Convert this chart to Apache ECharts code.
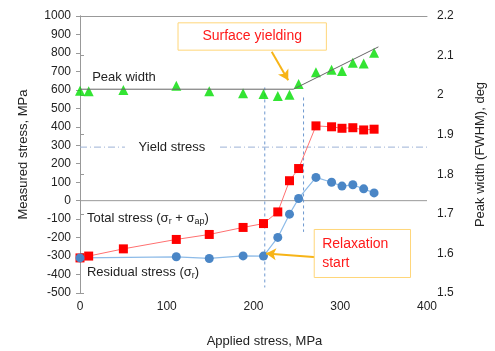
<!DOCTYPE html>
<html>
<head>
<meta charset="utf-8">
<script src="https://cdn.jsdelivr.net/npm/echarts@6/dist/echarts.min.js"></script>
<style>html,body{margin:0;padding:0;background:#fff}#c{width:495px;height:351px}</style>
</head>
<body>
<div id="c"></div>
<script>
// ---- data ----
var totalX   = [0, 10, 50, 111, 149, 188, 211.5, 228, 241.5, 252, 272, 290, 302, 314.5, 327, 339];
var totalY   = [-310, -300, -261, -210, -183, -145, -124, -61, 108, 174, 405, 400, 392, 395, 383, 387];
var residX   = [0, 111, 149, 188, 211.5, 228, 241.5, 252, 272, 290, 302, 314.5, 327, 339];
var residY   = [-310, -304, -313, -299, -300, -199, -73, 12, 126, 100, 79, 86, 64, 42];
var widthX   = [0, 10, 50, 111, 149, 188, 211.5, 228, 241.5, 252, 272, 290, 302, 314.5, 327, 339];
var widthY   = [2.011, 2.010, 2.013, 2.024, 2.010, 2.005, 2.003, 1.998, 2.001, 2.028, 2.058, 2.064, 2.061, 2.082, 2.080, 2.107];
var fitX     = [0, 246, 344];
var fitY     = [2.015, 2.015, 2.122];
var yieldStress = 290;
var relaxX = 213, relaxY = [613, -470];
var yieldX = 257.7, yieldY = [559, -169];
var xTicks = [0, 100, 200, 300, 400];

function pairs(xs, ys){ return xs.map(function(x,i){ return [x, ys[i]]; }); }

var font = 'Liberation Sans, Arial, sans-serif';
var chart = echarts.init(document.getElementById('c'), null, {renderer:'canvas'});

function guide(data, color, type, width){
  return {type: 'line', xAxisIndex: 0, yAxisIndex: 0, data: data, symbol: 'none', silent: true,
    lineStyle: {color: color, type: type, width: width || 1}, z: 1};
}

var option = {
  animation: false,
  textStyle: {fontFamily: font},
  grid: {left: 80, right: 68, top: 16, bottom: 58, containLabel: false, outerBoundsMode: 'none'},
  xAxis: [{
    type: 'value', min: xTicks[0], max: xTicks[xTicks.length-1], interval: 100,
    position: 'bottom',
    axisLine: {show: false, onZero: false}, axisTick: {show: false}, splitLine: {show: false},
    axisLabel: {color: '#222', fontSize: 12, margin: 8, fontFamily: font},
    name: 'Applied stress, MPa', nameLocation: 'middle', nameGap: 42,
    nameTextStyle: {color: '#222', fontSize: 13, fontFamily: font, padding: [0,0,0,22]}
  },{
    type: 'value', min: 0, max: 400, interval: 100, position: 'top',
    axisLine: {show: true, onZero: false, lineStyle: {color: '#999'}},
    axisTick: {show: false}, axisLabel: {show: false}, splitLine: {show: false}
  }],
  yAxis: [{
    type: 'value', min: -500, max: 1000, interval: 100, position: 'left',
    axisLine: {show: true, lineStyle: {color: '#999'}},
    axisTick: {show: true, length: 4, lineStyle: {color: '#999'}},
    splitLine: {show: false},
    axisLabel: {color: '#222', fontSize: 12, margin: 9, fontFamily: font,
      formatter: function(v){ return String(v); }},
    name: 'Measured stress, MPa', nameLocation: 'middle', nameGap: 50, nameRotate: 90,
    nameTextStyle: {color: '#222', fontSize: 13, fontFamily: font}
  },{
    type: 'value', min: 1.5, max: 2.2, interval: 0.1, position: 'right',
    axisLine: {show: true, lineStyle: {color: '#999'}},
    axisTick: {show: true, length: 4, lineStyle: {color: '#999'}},
    splitLine: {show: false},
    axisLabel: {color: '#222', fontSize: 12, margin: 10, fontFamily: font,
      formatter: function(v){ return String(Math.round(v*10)/10); }},
    name: 'Peak width (FWHM), deg', nameLocation: 'middle', nameGap: 47, nameRotate: 90,
    nameTextStyle: {color: '#222', fontSize: 13, fontFamily: font}
  }],
  series: [
    guide([[xTicks[0], 0], [xTicks[xTicks.length-1], 0]], '#999', 'solid'),
    guide([[xTicks[0], yieldStress], [xTicks[xTicks.length-1], yieldStress]], '#9db3d6', [7,3,1,3]),
    guide([[relaxX, relaxY[0]], [relaxX, relaxY[1]]], '#6d98cf', [3,3]),
    guide([[yieldX, yieldY[0]], [yieldX, yieldY[1]]], '#6d98cf', [3,3]),
    {
      name: 'Peak width fit', type: 'line', xAxisIndex: 0, yAxisIndex: 1,
      data: pairs(fitX, fitY), symbol: 'none', lineStyle: {color: '#666', width: 1}, silent: true
    },
    {
      name: 'Peak width', type: 'scatter', xAxisIndex: 0, yAxisIndex: 1,
      data: pairs(widthX, widthY), symbol: 'triangle', symbolSize: 10,
      itemStyle: {color: '#00dd00'}
    },
    {
      name: 'Total stress', type: 'line', xAxisIndex: 0, yAxisIndex: 0,
      data: pairs(totalX, totalY), symbol: 'rect', symbolSize: 9,
      lineStyle: {color: '#ff7070', width: 1}, itemStyle: {color: '#ff0000'}
    },
    {
      name: 'Residual stress', type: 'line', xAxisIndex: 0, yAxisIndex: 0,
      data: pairs(residX, residY), symbol: 'circle', symbolSize: 9,
      lineStyle: {color: '#8dbbe8', width: 1.2}, itemStyle: {color: '#4a86c6'}
    },
    { // arrows
      type: 'line', data: [], xAxisIndex: 0, yAxisIndex: 0, silent: true,
      markLine: {
        silent: true, symbol: ['none', 'arrow'], symbolSize: [9, 10], label: {show: false},
        lineStyle: {color: '#f7b417', width: 2, type: 'solid'},
        data: [
          [{coord: [221, 806]}, {coord: [240, 652]}],
          [{coord: [273, -307]}, {coord: [214.5, -286]}]
        ]
      }
    }
  ]
};
chart.setOption(option);

function px(x, y){ return chart.convertToPixel({xAxisIndex: 0, yAxisIndex: 0}, [x, y]); }
var sy1 = px(113, 963), sy2 = px(284, 815);
var rs1 = px(270, -156), rs2 = px(381, -416);
var pw = px(14, 668), ts = px(8, -95), rsd = px(8, -387), ys = px(106, yieldStress);
chart.setOption({
  graphic: [
    {type: 'rect', shape: {x: sy1[0], y: sy1[1], width: sy2[0]-sy1[0], height: sy2[1]-sy1[1]},
     style: {fill: '#fff', stroke: '#ffd679', lineWidth: 1}, z: 100},
    {type: 'text', x: (sy1[0]+sy2[0])/2, y: (sy1[1]+sy2[1])/2, z: 101,
     style: {text: 'Surface yielding', fill: '#ff1a1a', font: '14px ' + font, align: 'center', verticalAlign: 'middle'}},
    {type: 'rect', shape: {x: rs1[0], y: rs1[1], width: rs2[0]-rs1[0], height: rs2[1]-rs1[1]},
     style: {fill: '#fff', stroke: '#ffd679', lineWidth: 1}, z: 100},
    {type: 'text', x: rs1[0] + 8, y: (rs1[1]+rs2[1])/2, z: 101,
     style: {text: 'Relaxation\nstart', fill: '#ff1a1a', font: '14px ' + font, lineHeight: 19, align: 'left', verticalAlign: 'middle'}},
    {type: 'text', x: pw[0], y: pw[1], z: 101,
     style: {text: 'Peak width', fill: '#222', font: '13px ' + font, align: 'left', verticalAlign: 'middle'}},
    {type: 'rect', shape: {x: ys[0]-47, y: ys[1]-9, width: 94, height: 18}, style: {fill: '#fff'}, z: 100},
    {type: 'text', x: ys[0], y: ys[1], z: 101,
     style: {text: 'Yield stress', fill: '#222', font: '13px ' + font, align: 'center', verticalAlign: 'middle'}},
    {type: 'text', x: ts[0], y: ts[1], z: 101,
     style: {text: 'Total stress (σ{s|r} + σ{s|ap})', fill: '#222', font: '13px ' + font, align: 'left', verticalAlign: 'middle',
       rich: {s: {fontSize: 9, fontFamily: font, fill: '#222', padding: [7, 0, 0, 0]}}}},
    {type: 'text', x: rsd[0], y: rsd[1], z: 101,
     style: {text: 'Residual stress (σ{s|r})', fill: '#222', font: '13px ' + font, align: 'left', verticalAlign: 'middle',
       rich: {s: {fontSize: 9, fontFamily: font, fill: '#222', padding: [7, 0, 0, 0]}}}}
  ]
});
</script>
</body>
</html>
